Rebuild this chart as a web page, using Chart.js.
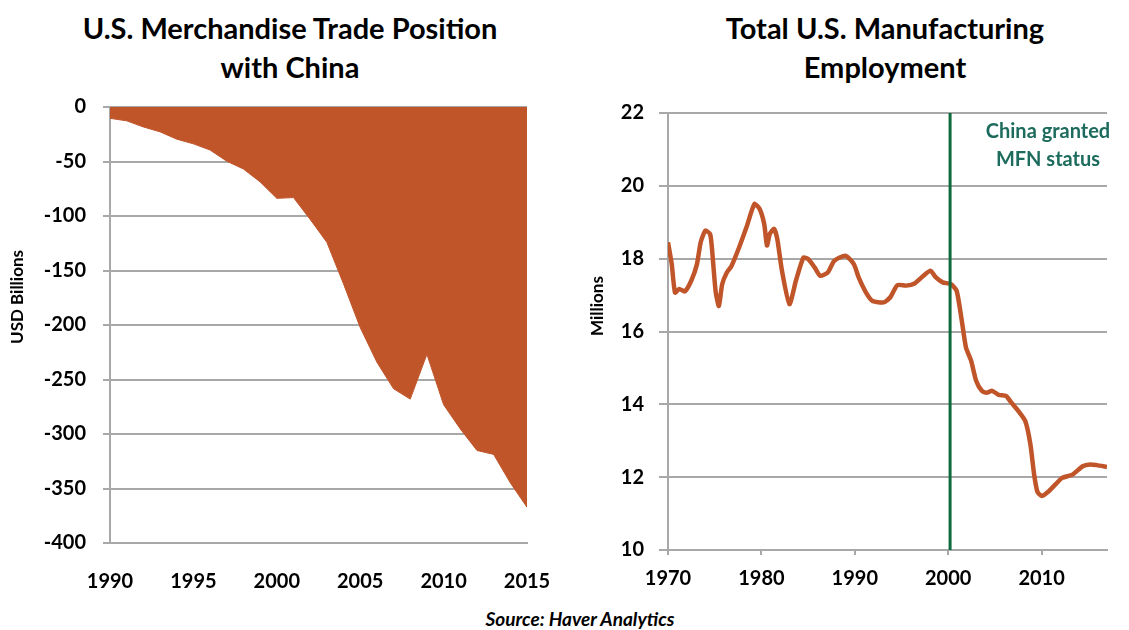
<!DOCTYPE html>
<html>
<head>
<meta charset="utf-8">
<script src="https://cdn.jsdelivr.net/npm/chart.js@4.4.1/dist/chart.umd.min.js"></script>
<style>
body{margin:0;background:#fff;width:1129px;height:630px;position:relative;overflow:hidden;font-family:Lato,sans-serif}
.titulo{position:absolute;top:8px;font-weight:bold;font-size:29px;line-height:39px;text-align:center;color:#000}
#caja1{position:absolute;left:0;top:0}
#caja2{position:absolute;left:560px;top:0}
.fuente{position:absolute;top:607px;left:0;width:1160px;text-align:center;font-style:italic;font-weight:bold;font-size:19px;color:#000}
</style>
</head>
<body>
<div class="titulo" style="left:30px;width:520px">U.S. Merchandise Trade Position<br>with China</div>
<div class="titulo" style="left:675px;width:420px">Total U.S. Manufacturing<br>Employment</div>
<canvas id="caja1" width="560" height="600"></canvas>
<canvas id="caja2" width="569" height="600"></canvas>
<div class="fuente">Source: Haver Analytics</div>
<script>
// balanza comercial con China (miles de millones USD)
const anios = [1990,1991,1992,1993,1994,1995,1996,1997,1998,1999,2000,2001,2002,2003,2004,2005,2006,2007,2008,2009,2010,2011,2012,2013,2014,2015];
const saldo = [-10.4,-12.7,-18.3,-22.8,-29.5,-33.8,-39.5,-49.7,-56.9,-68.7,-83.8,-83.1,-103.1,-124.1,-162.3,-202.3,-234.1,-258.5,-268.0,-226.9,-273.1,-295.3,-315.1,-318.7,-344.8,-367.2];
const ticksSaldo = [0,-50,-100,-150,-200,-250,-300,-350,-400];

// empleo manufacturero (millones)
const empFechas = [1970.0,1970.4,1970.75,1971.2,1971.8,1972.5,1973.1,1973.5,1974.0,1974.5,1974.7,1975.1,1975.45,1975.8,1976.3,1976.8,1977.6,1978.4,1979.25,1979.8,1980.3,1980.6,1980.9,1981.35,1981.7,1982.2,1983.0,1983.7,1984.5,1985.0,1985.7,1986.3,1987.1,1987.8,1989.0,1989.9,1990.4,1991.2,1991.9,1993.1,1993.8,1994.55,1995.5,1996.4,1997.35,1998.1,1998.65,1999.4,2000.3,2000.9,2001.4,2001.9,2002.45,2003.0,2003.6,2004.1,2004.7,2005.4,2006.2,2006.75,2007.5,2008.25,2008.8,2009.2,2009.55,2010.0,2010.7,2011.4,2012.2,2013.3,2014.4,2015.2,2015.9,2017.0];
const empValores = [18.45,17.85,17.07,17.17,17.1,17.4,17.85,18.45,18.77,18.68,18.3,17.1,16.7,17.3,17.62,17.8,18.3,18.86,19.5,19.37,18.95,18.36,18.68,18.82,18.54,17.67,16.75,17.4,18.03,17.99,17.76,17.53,17.62,17.94,18.08,17.85,17.49,17.07,16.84,16.8,16.94,17.27,17.26,17.32,17.53,17.67,17.49,17.35,17.3,17.12,16.39,15.56,15.2,14.64,14.37,14.32,14.37,14.26,14.23,14.05,13.82,13.54,12.9,12.07,11.6,11.48,11.6,11.78,11.98,12.07,12.3,12.35,12.33,12.28];
const anioMFN = 2000.2;
const notaMFN = ["China granted", "MFN status"];

const naranja = '#C1552A';
const gris = '#A8A8A8';
const fuenteTicks = {family:'Lato', size:20, weight:'bold'};

// titulo del eje y dibujado a mano (no esta centrado en el eje)
const tituloY = {
  id: 'tituloY',
  afterDraw(chart, args, opts) {
    const ctx = chart.ctx;
    ctx.save();
    ctx.translate(opts.x, opts.y);
    ctx.rotate(-Math.PI / 2);
    ctx.font = 'bold ' + opts.size + 'px Lato';
    ctx.fillStyle = '#000';
    ctx.textAlign = 'center';
    ctx.textBaseline = 'middle';
    ctx.fillText(opts.text, 0, 0);
    ctx.restore();
  }
};

const nota = {
  id: 'nota',
  afterDraw(chart, args, opts) {
    if (!opts.lineas) return;
    const ctx = chart.ctx;
    ctx.save();
    ctx.font = 'bold 20px Lato';
    ctx.fillStyle = '#1C6B5C';
    ctx.textAlign = 'center';
    ctx.textBaseline = 'middle';
    opts.lineas.forEach((l, i) => ctx.fillText(l, opts.x, opts.y + i * 28));
    ctx.restore();
  }
};

new Chart('caja1', {
  type: 'line',
  data: {
    datasets: [{
      data: anios.map((a, i) => ({x: a, y: saldo[i]})),
      fill: 'origin',
      backgroundColor: naranja,
      borderColor: naranja,
      borderWidth: 1,
      pointRadius: 0,
      tension: 0
    }]
  },
  options: {
    responsive: false,
    animation: false,
    layout: {padding: {top: 107, right: 33, left: 0, bottom: 0}},
    plugins: {
      legend: {display: false},
      tooltip: {enabled: false},
      tituloY: {text: 'USD Billions', x: 18, y: 297, size: 17}
    },
    scales: {
      x: {
        type: 'linear', min: 1990, max: 2015,
        ticks: {stepSize: 5, padding: 19, color: '#000', font: fuenteTicks, callback: v => String(v)},
        grid: {display: false},
        border: {display: true, color: gris, width: 2},
        afterFit: s => { s.height = 57; s.paddingRight = 0; s.paddingLeft = 0; }
      },
      y: {
        min: ticksSaldo[ticksSaldo.length - 1], max: ticksSaldo[0],
        afterBuildTicks: s => { s.ticks = ticksSaldo.map(v => ({value: v})); },
        ticks: {padding: 17, color: '#000', font: fuenteTicks},
        grid: {color: gris, lineWidth: 2, tickLength: 7},
        border: {color: gris, width: 2},
        afterFit: s => { s.width = 110; }
      }
    }
  },
  plugins: [tituloY]
});

new Chart('caja2', {
  type: 'line',
  data: {
    datasets: [{
      data: [{x: anioMFN, y: 10}, {x: anioMFN, y: 22}],
      borderColor: '#0F6A3E',
      borderWidth: 3,
      pointRadius: 0,
      order: 0
    }, {
      data: empFechas.map((a, i) => ({x: a, y: empValores[i]})),
      borderColor: naranja,
      borderWidth: 4.5,
      pointRadius: 0,
      tension: 0.2,
      order: 1
    }]
  },
  options: {
    responsive: false,
    animation: false,
    layout: {padding: {top: 113, right: 22, left: 0, bottom: 0}},
    plugins: {
      legend: {display: false},
      tooltip: {enabled: false},
      tituloY: {text: 'Millions', x: 38, y: 306, size: 17},
      nota: {lineas: notaMFN, x: 488, y: 132}
    },
    scales: {
      x: {
        type: 'linear', min: 1970, max: 2017,
        ticks: {stepSize: 10, includeBounds: false, padding: 12, color: '#000', font: fuenteTicks, callback: v => String(v)},
        grid: {drawOnChartArea: false, drawTicks: true, tickLength: 5, color: gris, lineWidth: 2},
        border: {display: true, color: gris, width: 2},
        afterFit: s => { s.height = 50; s.paddingRight = 0; s.paddingLeft = 0; }
      },
      y: {
        min: 10, max: 22,
        ticks: {stepSize: 2, padding: 15, color: '#000', font: fuenteTicks},
        grid: {color: gris, lineWidth: 2, tickLength: 9},
        border: {color: gris, width: 2},
        afterFit: s => { s.width = 108; }
      }
    }
  },
  plugins: [tituloY, nota]
});
</script>
</body>
</html>
